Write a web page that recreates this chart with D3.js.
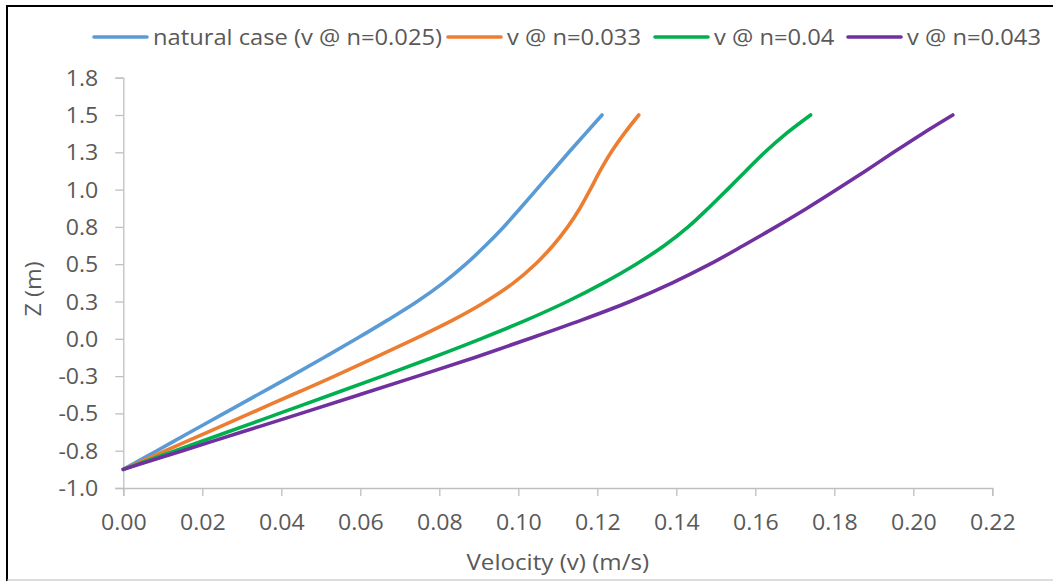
<!DOCTYPE html>
<html><head><meta charset="utf-8">
<script src="https://cdn.jsdelivr.net/npm/d3@7"></script>
<style>html,body{margin:0;padding:0;background:#fff;}svg{display:block;}</style>
</head><body>
<svg id="chart" width="1053" height="581"></svg>
<script>
// ---- data ----
const zLevels   = [-0.875, -0.75, -0.625, -0.5, -0.375, -0.25, -0.125, 0, 0.125, 0.25,
                   0.375, 0.5, 0.625, 0.75, 0.875, 1.0, 1.125, 1.25, 1.375, 1.5];
const vNatural  = [0, 0.0085, 0.0170, 0.0255, 0.0340, 0.0425, 0.0508, 0.0590, 0.0669, 0.0744,
                   0.0810, 0.0867, 0.0917, 0.0963, 0.1005, 0.1046, 0.1087, 0.1128, 0.1170, 0.1212];
const vN033     = [0, 0.0107, 0.0214, 0.0321, 0.0428, 0.0535, 0.0638, 0.0738, 0.0834, 0.0918,
                   0.0988, 0.1043, 0.1088, 0.1125, 0.1156, 0.1182, 0.1207, 0.1235, 0.1268, 0.1305];
const vN040     = [0, 0.0132, 0.0264, 0.0395, 0.0526, 0.0656, 0.0783, 0.0905, 0.1020, 0.1124,
                   0.1216, 0.1298, 0.1370, 0.1430, 0.1481, 0.1529, 0.1576, 0.1624, 0.1678, 0.1740];
const vN043     = [0, 0.0150, 0.0300, 0.0450, 0.0598, 0.0745, 0.0890, 0.1027, 0.1160, 0.1283,
                   0.1390, 0.1485, 0.1570, 0.1652, 0.1731, 0.1806, 0.1879, 0.1950, 0.2023, 0.2100];
const seriesNames = ["natural case (v @ n=0.025)", "v @ n=0.033", "v @ n=0.04", "v @ n=0.043"];
const seriesColors = ["#5B9BD5", "#ED7D31", "#00B050", "#7030A0"];
const xTicks = [0, 0.02, 0.04, 0.06, 0.08, 0.10, 0.12, 0.14, 0.16, 0.18, 0.20, 0.22];
const xTickLabels = ["0.00","0.02","0.04","0.06","0.08","0.10","0.12","0.14","0.16","0.18","0.20","0.22"];
const yTicks = [-1.0, -0.75, -0.5, -0.25, 0, 0.25, 0.5, 0.75, 1.0, 1.25, 1.5, 1.75];
const yTickLabels = ["-1.0","-0.8","-0.5","-0.3","0.0","0.3","0.5","0.8","1.0","1.3","1.5","1.8"];
const xTitle = "Velocity (v) (m/s)";
const yTitle = "Z (m)";

const allV = [vNatural, vN033, vN040, vN043];
const series = seriesNames.map((n, i) => ({
  name: n, color: seriesColors[i],
  pts: zLevels.map((z, j) => ({v: allV[i][j], z}))
}));

// ---- layout ----
const svg = d3.select("#chart");
const font = "'Open Sans', sans-serif";
const fs = 21;
const textColor = "#595959";
const axisColor = "#BFBFBF";
const L = 123.3, R = 992.3, T = 77.7, B = 488;

const x = d3.scaleLinear().domain([0, 0.22]).range([L, R]);
const y = d3.scaleLinear().domain([-1, 1.75]).range([B, T]);

// frame
svg.append("path").attr("d", "M7,581 V6 H1053").attr("fill", "none")
   .attr("stroke", "#000").attr("stroke-width", 2);
svg.append("line").attr("x1", 7).attr("x2", 1053).attr("y1", 580).attr("y2", 580)
   .attr("stroke", "#BBBBBB").attr("stroke-width", 1);

// axes
const tickSX = 1.1;
const xAxis = d3.axisBottom(x).tickValues(xTicks).tickSize(8)
  .tickFormat((d, i) => xTickLabels[i]);
const gx = svg.append("g").attr("transform", `translate(0,${B})`).call(xAxis);
gx.select(".domain").attr("stroke", axisColor).attr("stroke-width", 1.3);
gx.selectAll(".tick line").attr("stroke", axisColor).attr("stroke-width", 1.3);
gx.selectAll(".tick text").attr("fill", textColor).attr("font-family", font)
  .attr("font-size", fs).attr("dy", null).attr("y", 42)
  .attr("transform", `scale(${tickSX},1)`);

const yAxis = d3.axisLeft(y).tickValues(yTicks).tickSize(8)
  .tickFormat((d, i) => yTickLabels[i]);
const gy = svg.append("g").attr("transform", `translate(${L},0)`).call(yAxis);
gy.select(".domain").attr("stroke", axisColor).attr("stroke-width", 1.3);
gy.selectAll(".tick line").attr("stroke", axisColor).attr("stroke-width", 1.3);
gy.selectAll(".tick text").attr("fill", textColor).attr("font-family", font)
  .attr("font-size", fs).attr("x", -25 / tickSX).attr("dy", "0.36em")
  .attr("transform", `scale(${tickSX},1)`);

// titles
svg.append("text").attr("transform", `translate(${(L + R) / 2},570) scale(1.15,1)`)
  .attr("text-anchor", "middle")
  .attr("fill", textColor).attr("font-family", font).attr("font-size", fs).text(xTitle);
svg.append("text").attr("transform", `translate(41,${(T + B) / 2 + 6}) rotate(-90) scale(1.12,1)`)
  .attr("text-anchor", "middle").attr("fill", textColor).attr("font-family", font)
  .attr("font-size", fs).text(yTitle);

// lines
const line = d3.line().x(d => x(d.v)).y(d => y(d.z)).curve(d3.curveCatmullRom.alpha(0.5));
svg.append("g").selectAll("path").data(series).join("path")
  .attr("d", d => line(d.pts)).attr("fill", "none")
  .attr("stroke", d => d.color).attr("stroke-width", 3.6)
  .attr("stroke-linecap", "round").attr("stroke-linejoin", "round");

// legend
const legendLineX = [94, 448, 655, 848];
const legendY = 37;
const lg = svg.append("g");
series.forEach((s, i) => {
  lg.append("line").attr("x1", legendLineX[i]).attr("x2", legendLineX[i] + 53)
    .attr("y1", legendY).attr("y2", legendY)
    .attr("stroke", s.color).attr("stroke-width", 3.6).attr("stroke-linecap", "round");
  lg.append("text").attr("transform", `translate(${legendLineX[i] + 59},${legendY}) scale(1.13,1)`)
    .attr("dy", "0.36em")
    .attr("fill", textColor).attr("font-family", font).attr("font-size", fs).text(s.name);
});
</script>
</body></html>
